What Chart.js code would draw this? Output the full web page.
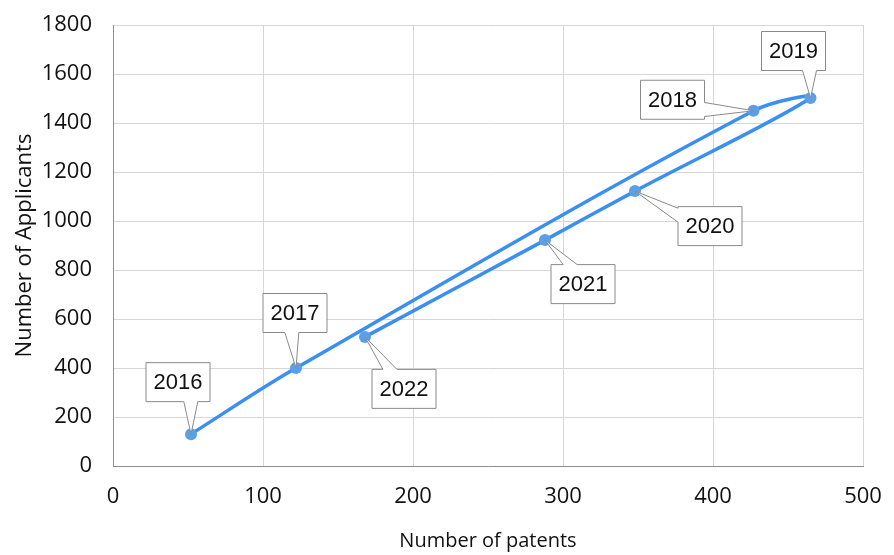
<!DOCTYPE html>
<html>
<head>
<meta charset="utf-8">
<script src="https://cdn.jsdelivr.net/npm/chart.js@4/dist/chart.umd.min.js"></script>
<style>
html,body{margin:0;padding:0;background:#fff;}
#wrap{width:894px;height:555px;position:relative;}
</style>
</head>
<body>
<div id="wrap"><canvas id="c" width="894" height="555"></canvas></div>
<script>
// ---- data ----
const years = ['2016','2017','2018','2019','2020','2021','2022'];
const patents = [52, 122, 427, 465, 348, 288, 168];
const applicants = [130, 400, 1450, 1502, 1122, 922, 527];
const xTicks = [0, 100, 200, 300, 400, 500];
const yTicks = [0, 200, 400, 600, 800, 1000, 1200, 1400, 1600, 1800];
const xTitle = 'Number of patents';
const yTitle = 'Number of Applicants';

// ---- callout styling (box centre offset from point, wedge side, wedge position) ----
const calloutStyle = [
  {dx:-13, dy:-52, side:'bottom', t:0.70},
  {dx:-1,  dy:-55, side:'bottom', t:0.45},
  {dx:-81, dy:-11, side:'right',  t:0.75},
  {dx:-17, dy:-47, side:'bottom', t:0.75},
  {dx:75,  dy:35,  side:'left',   t:0.22},
  {dx:38,  dy:44,  side:'top',    t:0.30},
  {dx:39,  dy:52,  side:'top',    t:0.28}
];

const points = patents.map((p, i) => ({x: p, y: applicants[i]}));
const tickFont = {family: "'Open Sans', 'DejaVu Sans', sans-serif", size: 22, style: 'condensed'};
const xTitleFont = {family: "'Open Sans', 'DejaVu Sans', sans-serif", size: 20, style: 'condensed'};

const calloutPlugin = {
  id: 'callouts',
  afterDatasetsDraw(chart) {
    const ctx = chart.ctx;
    const meta = chart.getDatasetMeta(0);
    const W = 64, H = 39, bw = 14;
    ctx.save();
    meta.data.forEach((el, i) => {
      const s = calloutStyle[i];
      const px = el.x, py = el.y;
      const cx = px + s.dx, cy = py + s.dy;
      const l = cx - W/2, r = cx + W/2, t = cy - H/2, b = cy + H/2;
      ctx.beginPath();
      if (s.side === 'bottom') {
        const bx = l + W * s.t;
        ctx.moveTo(l, t); ctx.lineTo(r, t); ctx.lineTo(r, b);
        ctx.lineTo(bx + bw/2, b); ctx.lineTo(px, py); ctx.lineTo(bx - bw/2, b);
        ctx.lineTo(l, b); ctx.closePath();
      } else if (s.side === 'top') {
        const bx = l + W * s.t;
        ctx.moveTo(l, t); ctx.lineTo(bx - bw/2, t); ctx.lineTo(px, py); ctx.lineTo(bx + bw/2, t);
        ctx.lineTo(r, t); ctx.lineTo(r, b); ctx.lineTo(l, b); ctx.closePath();
      } else if (s.side === 'right') {
        const by = t + H * s.t;
        ctx.moveTo(l, t); ctx.lineTo(r, t); ctx.lineTo(r, by - bw/2); ctx.lineTo(px, py);
        ctx.lineTo(r, by + bw/2); ctx.lineTo(r, b); ctx.lineTo(l, b); ctx.closePath();
      } else {
        const by = t + H * s.t;
        ctx.moveTo(l, t); ctx.lineTo(r, t); ctx.lineTo(r, b); ctx.lineTo(l, b);
        ctx.lineTo(l, by + bw/2); ctx.lineTo(px, py); ctx.lineTo(l, by - bw/2); ctx.closePath();
      }
      ctx.fillStyle = '#ffffff';
      ctx.fill();
      ctx.lineWidth = 1;
      ctx.strokeStyle = '#8a8a8a';
      ctx.stroke();
      ctx.fillStyle = '#111111';
      ctx.font = "22px 'Liberation Sans', Arial, sans-serif";
      ctx.textAlign = 'center';
      ctx.textBaseline = 'middle';
      ctx.fillText(years[i], cx, cy + 1);
    });
    ctx.restore();
  }
};

new Chart(document.getElementById('c'), {
  type: 'scatter',
  data: {
    datasets: [{
      data: points,
      showLine: true,
      tension: 0.35,
      borderColor: '#3a8ff0',
      borderWidth: 3.5,
      pointRadius: 6,
      pointBackgroundColor: '#5b9fe9',
      pointBorderColor: '#5b9fe9',
      pointBorderWidth: 0
    }]
  },
  options: {
    responsive: false,
    animation: false,
    layout: {padding: {top: 25, right: 31, left: 0, bottom: 0}},
    plugins: {legend: {display: false}, tooltip: {enabled: false}},
    scales: {
      x: {
        type: 'linear', min: 0, max: 500,
        afterBuildTicks: s => { s.ticks = xTicks.map(v => ({value: v})); },
        afterFit: s => { s.height = 89; s.paddingLeft = 0; s.paddingRight = 0; },
        grid: {color: '#d6d6d6', lineWidth: 1, drawTicks: false},
        border: {color: '#8f8f8f', width: 1},
        ticks: {font: tickFont, color: '#111', padding: 18, maxRotation: 0, callback: v => String(v)},
        title: {display: true, text: xTitle, font: xTitleFont, color: '#111', padding: {top: 0, bottom: 2}}
      },
      y: {
        type: 'linear', min: 0, max: 1800,
        afterBuildTicks: s => { s.ticks = yTicks.map(v => ({value: v})); },
        afterFit: s => { s.width = 113; s.paddingTop = 0; s.paddingBottom = 0; },
        grid: {color: '#d6d6d6', lineWidth: 1, drawTicks: false},
        border: {color: '#8f8f8f', width: 1},
        ticks: {font: tickFont, color: '#111', padding: 21, callback: v => String(v)},
        title: {display: true, text: yTitle, font: tickFont, color: '#111', padding: {top: 12, bottom: 0}}
      }
    }
  },
  plugins: [calloutPlugin]
});
</script>
</body>
</html>
